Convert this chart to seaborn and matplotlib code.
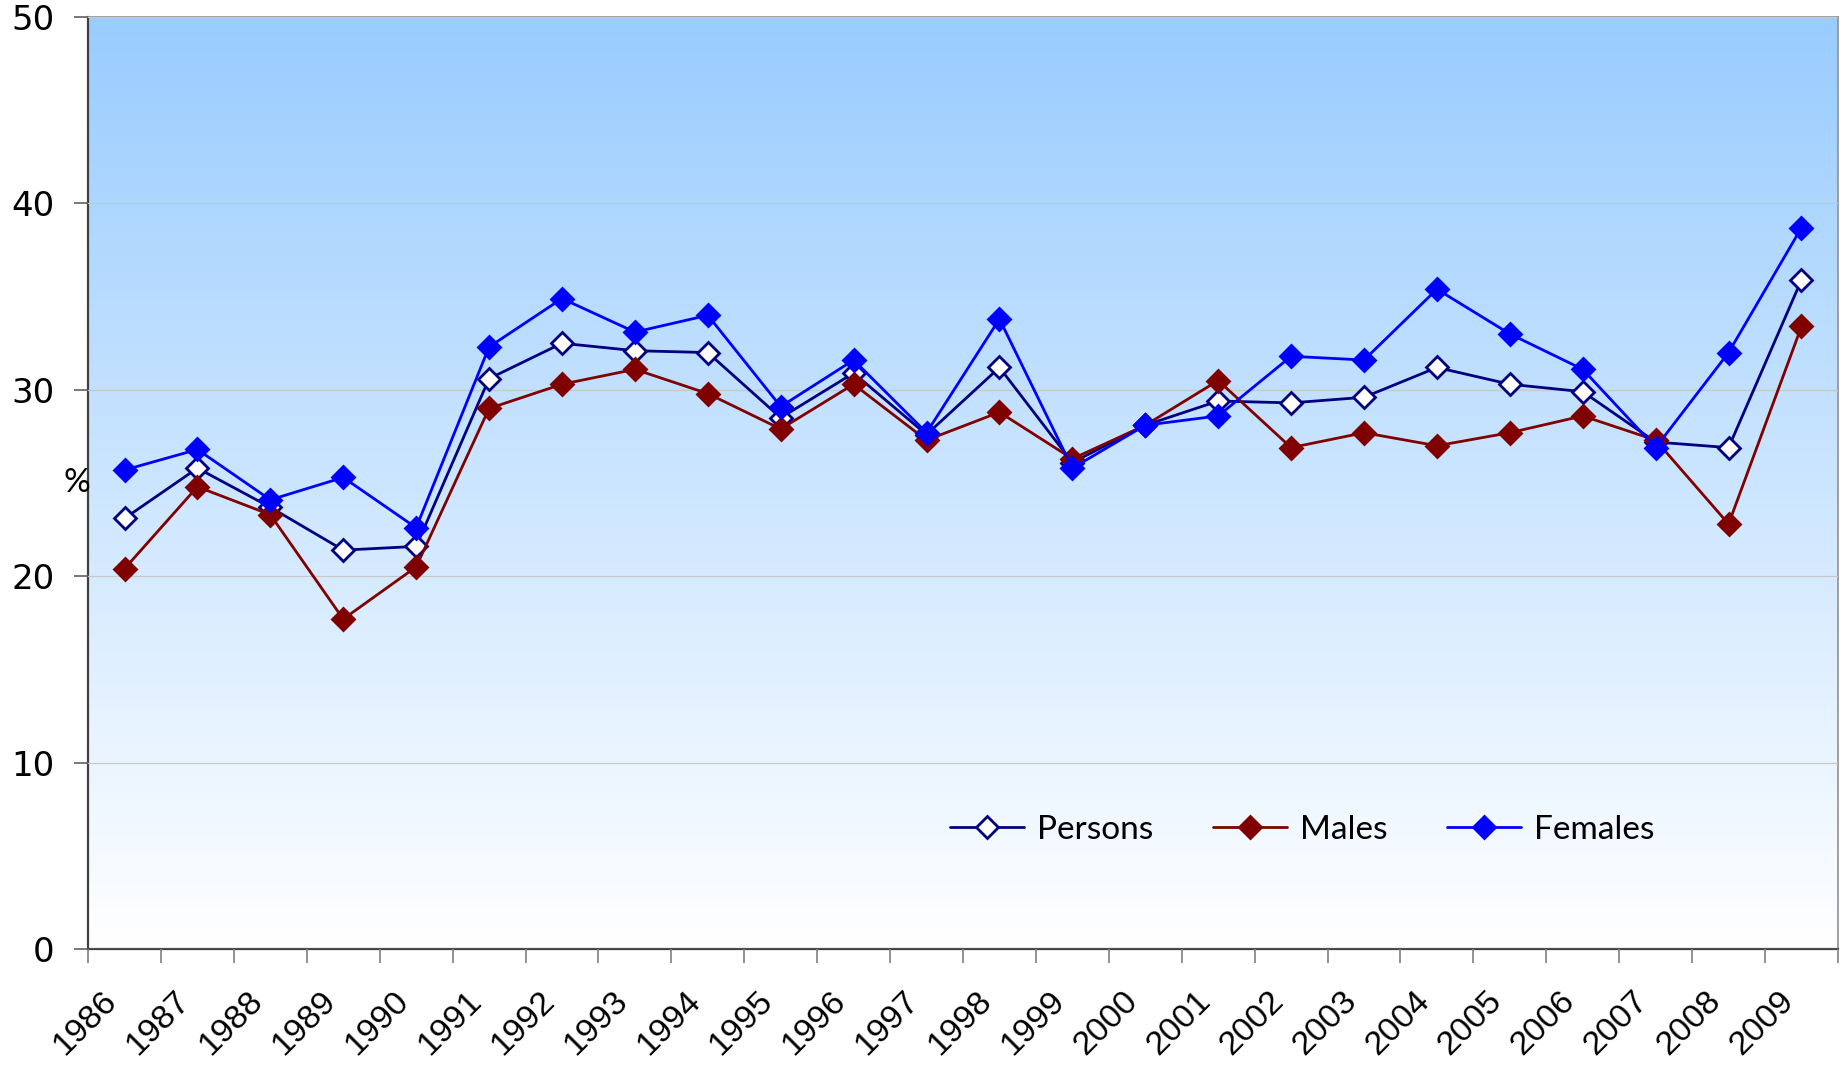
import matplotlib
matplotlib.use('Agg')
import matplotlib.pyplot as plt
from matplotlib.colors import LinearSegmentedColormap
from matplotlib.ticker import FixedLocator
import matplotlib.transforms as mtransforms
import numpy as np
import pandas as pd
import seaborn as sns

# Values (%).
years = [str(y) for y in range(1986, 2010)]
persons = [23.1, 25.8, 23.7, 21.4, 21.6, 30.6, 32.5, 32.1, 32.0, 28.5, 30.9, 27.6,
           31.2, 26.1, 28.1, 29.4, 29.3, 29.6, 31.2, 30.3, 29.9, 27.2, 26.9, 35.9]
males = [20.4, 24.8, 23.3, 17.7, 20.5, 29.0, 30.3, 31.1, 29.8, 27.9, 30.3, 27.3,
         28.8, 26.3, 28.1, 30.5, 26.9, 27.7, 27.0, 27.7, 28.6, 27.3, 22.8, 33.4]
females = [25.7, 26.8, 24.1, 25.3, 22.6, 32.3, 34.9, 33.1, 34.0, 29.1, 31.6, 27.7,
           33.8, 25.8, 28.1, 28.6, 31.8, 31.6, 35.4, 33.0, 31.1, 26.9, 32.0, 38.7]

df = pd.DataFrame({'Year': years, 'Persons': persons, 'Males': males, 'Females': females})
df['pos'] = np.arange(len(years)) + 0.5

sns.set_theme(style='white')
plt.rcParams['font.family'] = ['Liberation Sans', 'DejaVu Sans']
plt.rcParams['text.color'] = 'black'
plt.rcParams['xtick.color'] = 'black'
plt.rcParams['ytick.color'] = 'black'

fig = plt.figure(figsize=(18.42, 10.67), dpi=100)
ax = fig.add_axes([0.0478, 0.1106, 0.95, 0.8734])

# Gradient plot-area background (light blue at top fading to white).
cmap = LinearSegmentedColormap.from_list('bg', ['#ffffff', '#99ccff'])
grad = np.linspace(0, 1, 256).reshape(-1, 1)
ax.imshow(grad, cmap=cmap, origin='lower', aspect='auto',
          extent=[0, len(years), 0, 50], zorder=0)

series = [
    ('Persons', '#000080', 'white'),
    ('Males', '#800000', '#800000'),
    ('Females', '#0000ff', '#0000ff'),
]
for name, col, face in series:
    sns.lineplot(data=df, x='pos', y=name, ax=ax, color=col, linewidth=2.0,
                 marker='D', markersize=11, markerfacecolor=face,
                 markeredgecolor=col, markeredgewidth=2.0, label=name, zorder=3)

ax.set_xlim(0, len(years))
ax.set_ylim(0, 50)
ax.set_yticks(range(0, 51, 10))
ax.yaxis.grid(True, color='#c8c8c8', linewidth=0.9)
ax.set_axisbelow(False)
for gl in ax.get_ygridlines():
    gl.set_zorder(1)

# Tick marks at category boundaries; rotated labels sit a little left of
# each category centre, as in the original spreadsheet chart.
ax.xaxis.set_major_locator(FixedLocator(np.arange(len(years) + 1)))
ax.set_xticklabels([])
ax.xaxis.set_minor_locator(FixedLocator(df['pos'] - 0.32))
ax.set_xticklabels(years, minor=True, rotation=45, ha='right',
                   rotation_mode='anchor', fontsize=24.5)
ax.tick_params(axis='x', which='major', bottom=True, length=10, width=1.2,
               color='#808080')
ax.tick_params(axis='x', which='minor', bottom=True, length=0, pad=26)
ax.tick_params(axis='y', left=True, length=10, width=1.2, color='#606060',
               pad=14)
for lab in ax.get_yticklabels():
    lab.set_fontfamily('DejaVu Sans')
    lab.set_fontsize(24.5)

ax.set_xlabel('')
ax.set_ylabel('')
trans = mtransforms.blended_transform_factory(ax.transAxes, ax.transData)
ax.text(0.001, 25.0, '%', transform=trans, ha='right', va='center',
        fontsize=24, family='Lato')

for side in ['left', 'bottom']:
    ax.spines[side].set_color('#404040')
    ax.spines[side].set_linewidth(1.6)
for side in ['top', 'right']:
    ax.spines[side].set_color('#909090')
    ax.spines[side].set_linewidth(1.2)

ax.legend(loc='center', bbox_to_anchor=(0.694, 0.128), ncol=3, frameon=False,
          prop={'family': 'Lato', 'size': 24}, handlelength=2.2,
          columnspacing=1.8, handletextpad=0.4)

fig.savefig('out.png', dpi=100)
